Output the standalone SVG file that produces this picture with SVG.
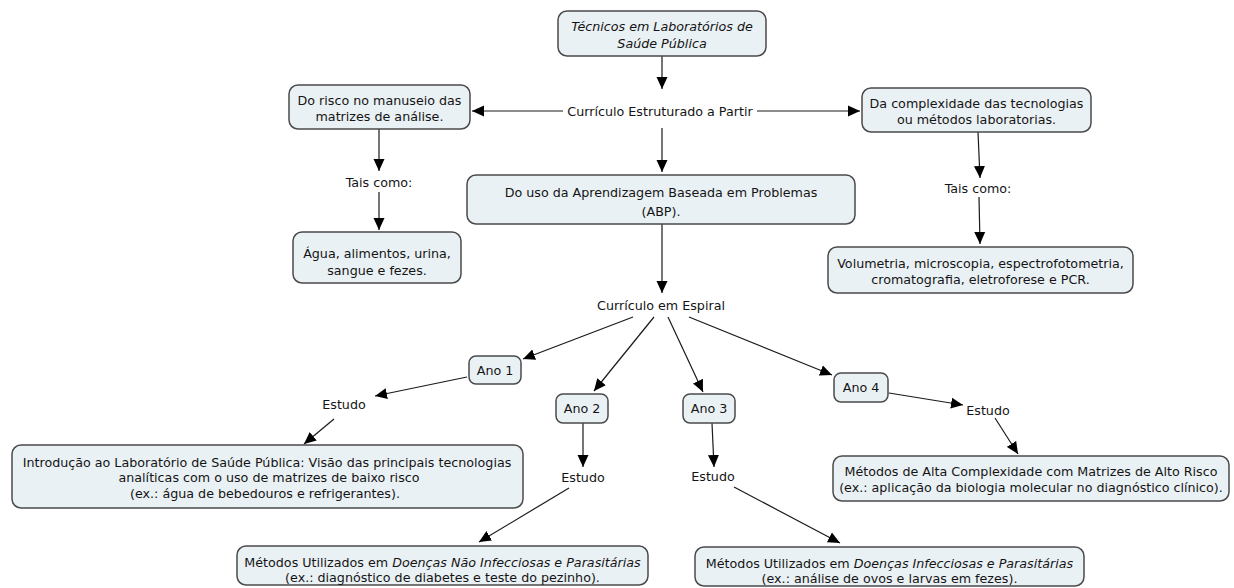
<svg xmlns="http://www.w3.org/2000/svg" width="1234" height="588" viewBox="0 0 1234 588">
<style>
.bg{fill:#ffffff}
.box{fill:#eaf1f5;stroke:#4a4a4a;stroke-width:1.5}
.t{font-family:"DejaVu Sans",Verdana,sans-serif;font-size:12.7px;fill:#141414;text-anchor:middle}
.i{font-style:italic}
.c{fill:none;stroke:#1a1a1a;stroke-width:1.2;marker-end:url(#ah)}
</style>
<defs>
<marker id="ah" markerUnits="userSpaceOnUse" markerWidth="13" markerHeight="12" refX="12" refY="6" orient="auto">
<path d="M0,0.5 L12,6 L0,11.5 z" fill="#000"/>
</marker>
</defs>
<rect class="bg" x="0" y="0" width="1234" height="588"/>
<g id="connectors">
<line class="c" x1="662" y1="56" x2="662" y2="89"/>
<line class="c" x1="563" y1="111" x2="472" y2="111"/>
<line class="c" x1="757" y1="111" x2="860" y2="111"/>
<line class="c" x1="379" y1="129" x2="379" y2="171"/>
<line class="c" x1="379" y1="192" x2="379" y2="230"/>
<line class="c" x1="662" y1="128" x2="662" y2="172"/>
<line class="c" x1="978" y1="132" x2="980" y2="178"/>
<line class="c" x1="979" y1="197" x2="980" y2="244"/>
<line class="c" x1="662" y1="224" x2="662" y2="293"/>
<line class="c" x1="633" y1="317" x2="523" y2="359"/>
<line class="c" x1="654" y1="317" x2="594" y2="391"/>
<line class="c" x1="668" y1="317" x2="703" y2="392"/>
<line class="c" x1="689" y1="317" x2="832" y2="375"/>
<line class="c" x1="467" y1="377" x2="375" y2="396"/>
<line class="c" x1="334" y1="419" x2="304" y2="444"/>
<line class="c" x1="583" y1="423" x2="583" y2="467"/>
<line class="c" x1="569" y1="488" x2="479" y2="542"/>
<line class="c" x1="712" y1="423" x2="714" y2="467"/>
<line class="c" x1="734" y1="487" x2="840" y2="543"/>
<line class="c" x1="889" y1="393" x2="963" y2="405"/>
<line class="c" x1="995" y1="418" x2="1018" y2="454"/>
</g>
<g id="n-tecnicos"><rect class="box" x="558" y="11" width="208" height="45" rx="9"/>
<text class="t i" x="662" y="31">Técnicos em Laboratórios de</text><text class="t i" x="662" y="48">Saúde Pública</text></g>
<g id="l-curriculo-estruturado"><text class="t" x="660" y="115.5">Currículo Estruturado a Partir</text></g>
<g id="n-risco"><rect class="box" x="289" y="85" width="181" height="44" rx="9"/>
<text class="t" x="379.5" y="104.5">Do risco no manuseio das</text><text class="t" x="379.5" y="120.5">matrizes de análise.</text></g>
<g id="l-tais1"><text class="t" x="379" y="186.5">Tais como:</text></g>
<g id="n-agua"><rect class="box" x="293" y="232" width="168" height="51" rx="9"/>
<text class="t" x="377" y="257.5">Água, alimentos, urina,</text><text class="t" x="377" y="274.5">sangue e fezes.</text></g>
<g id="n-abp"><rect class="box" x="467" y="175" width="388" height="49" rx="9"/>
<text class="t" x="661" y="196.5">Do uso da Aprendizagem Baseada em Problemas</text><text class="t" x="661" y="215.5">(ABP).</text></g>
<g id="n-complexidade"><rect class="box" x="862" y="88" width="229" height="44" rx="9"/>
<text class="t" x="976.5" y="107.5">Da complexidade das tecnologias</text><text class="t" x="976.5" y="123.5">ou métodos laboratorias.</text></g>
<g id="l-tais2"><text class="t" x="978" y="192.5">Tais como:</text></g>
<g id="n-volumetria"><rect class="box" x="828" y="247" width="305" height="46" rx="9"/>
<text class="t" x="980.5" y="267.5">Volumetria, microscopia, espectrofotometria,</text><text class="t" x="980.5" y="284">cromatografia, eletroforese e PCR.</text></g>
<g id="l-espiral"><text class="t" x="661" y="309.5">Currículo em Espiral</text></g>
<g id="n-ano1"><rect class="box" x="469" y="356" width="52" height="28" rx="7"/><text class="t" x="495" y="374.5">Ano 1</text></g>
<g id="n-ano2"><rect class="box" x="556" y="394" width="52" height="29" rx="7"/><text class="t" x="582" y="413">Ano 2</text></g>
<g id="n-ano3"><rect class="box" x="683" y="394" width="52" height="29" rx="7"/><text class="t" x="709" y="413">Ano 3</text></g>
<g id="n-ano4"><rect class="box" x="834" y="373" width="54" height="29" rx="7"/><text class="t" x="861" y="391.5">Ano 4</text></g>
<g id="l-estudo1"><text class="t" x="344" y="408.5">Estudo</text></g>
<g id="l-estudo2"><text class="t" x="583" y="481.5">Estudo</text></g>
<g id="l-estudo3"><text class="t" x="713" y="480.5">Estudo</text></g>
<g id="l-estudo4"><text class="t" x="988" y="414.5">Estudo</text></g>
<g id="n-introducao"><rect class="box" x="12" y="445" width="511" height="63" rx="9"/>
<text class="t" x="267" y="466.5">Introdução ao Laboratório de Saúde Pública: Visão das principais tecnologias</text>
<text class="t" x="269" y="482">analíticas com o uso de matrizes de baixo risco</text>
<text class="t" x="265" y="497.5">(ex.: água de bebedouros e refrigerantes).</text></g>
<g id="n-nao-infecciosas"><rect class="box" x="237" y="546" width="411" height="39" rx="9"/>
<text class="t" x="442.5" y="566.5">Métodos Utilizados em <tspan class="i">Doenças Não Infecciosas e Parasitárias</tspan></text>
<text class="t" x="442.5" y="581.5">(ex.: diagnóstico de diabetes e teste do pezinho).</text></g>
<g id="n-infecciosas"><rect class="box" x="695" y="547" width="389" height="39" rx="9"/>
<text class="t" x="889.5" y="567.5">Métodos Utilizados em <tspan class="i">Doenças Infecciosas e Parasitárias</tspan></text>
<text class="t" x="889.5" y="582.5">(ex.: análise de ovos e larvas em fezes).</text></g>
<g id="n-alta"><rect class="box" x="833" y="456" width="396" height="45" rx="9"/>
<text class="t" x="1031" y="475.5">Métodos de Alta Complexidade com Matrizes de Alto Risco</text>
<text class="t" x="1031" y="491.5">(ex.: aplicação da biologia molecular no diagnóstico clínico).</text></g>
</svg>
